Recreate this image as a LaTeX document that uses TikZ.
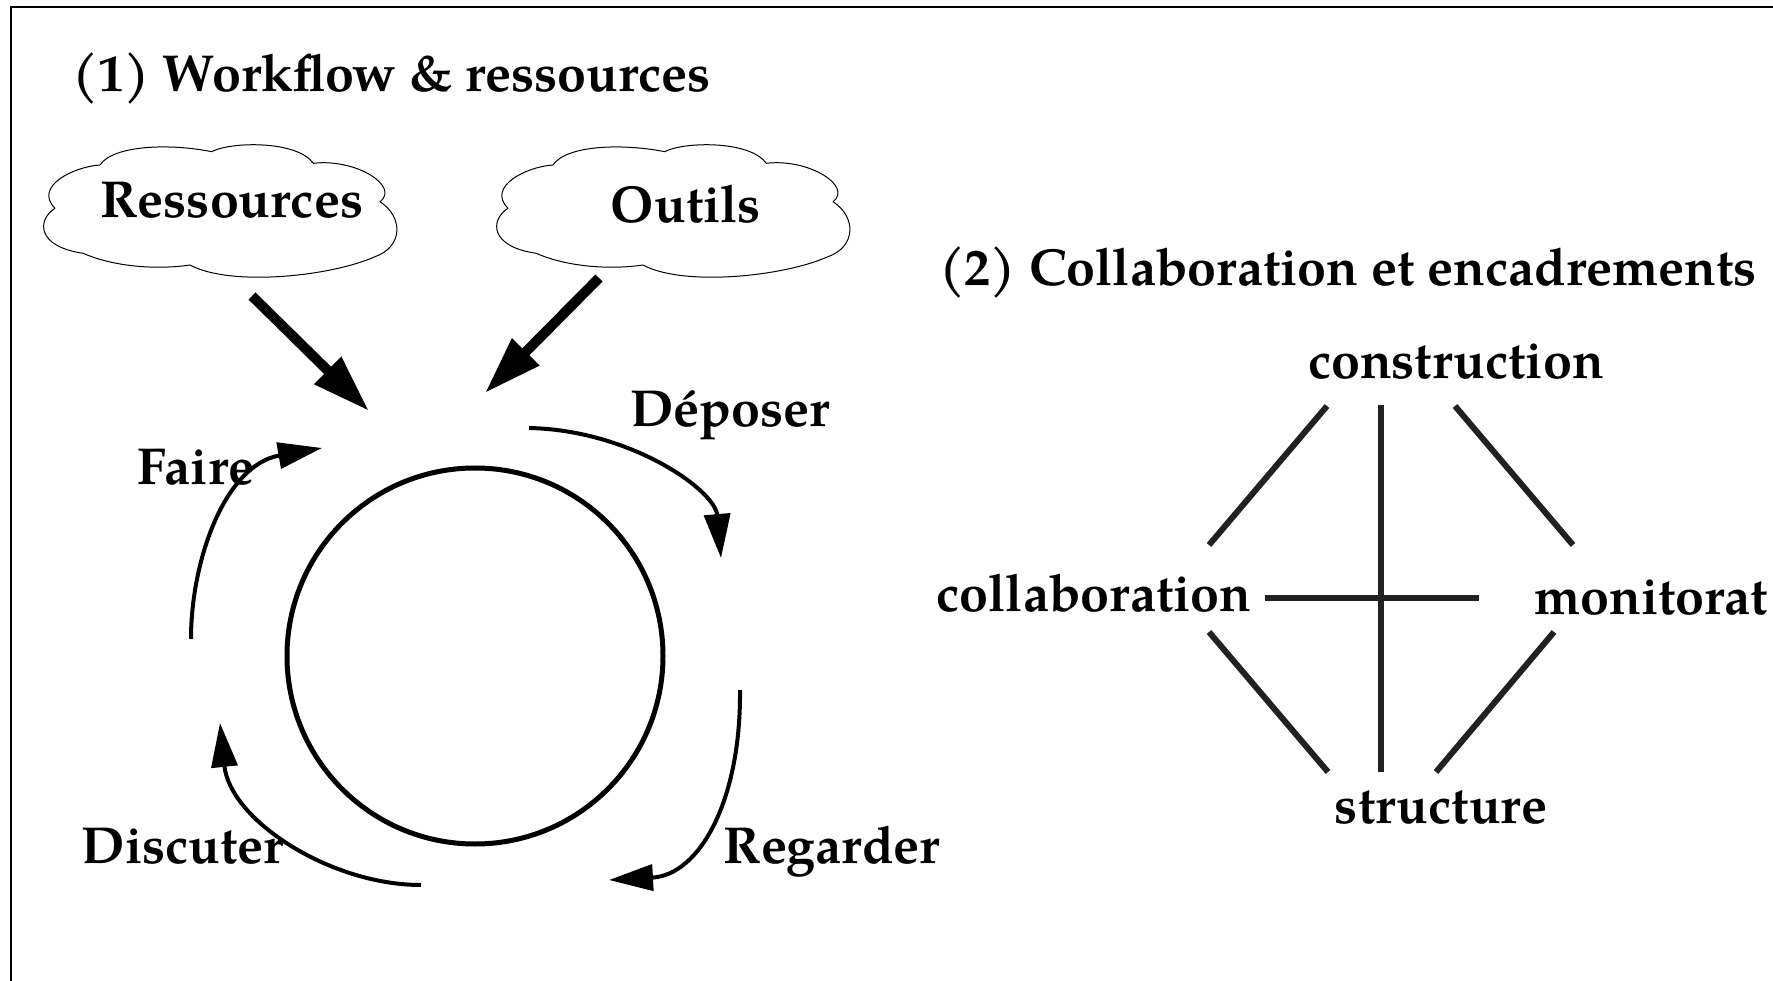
\documentclass[tikz,border=0pt]{standalone}
\usepackage{fontspec}
\setmainfont{texgyrepagella}[Extension=.otf, UprightFont=*-regular, BoldFont=*-bold, ItalicFont=*-italic, BoldItalicFont=*-bolditalic]
\usetikzlibrary{arrows.meta}
\tikzset{
  lbl/.style={font=\fontsize{52}{62}\selectfont\bfseries, inner sep=0pt, anchor=base},
  cloudline/.style={draw, line width=1pt, line join=round},
  flow/.style={line width=4pt, -{Triangle[length=44pt,width=26pt]}},
  feed/.style={line width=10pt, -{Triangle[length=58pt,width=36pt]}},
  tie/.style={line width=6pt, draw=black!87},
  ring/.style={circle, draw, line width=5pt, minimum size=376pt, inner sep=0pt},
}
\newcommand{\cloudshape}{%
  (100,165) .. controls (113.3,145) and (170,143.3) .. (211.7,151.7)
  .. controls (230,141.7) and (296.7,140) .. (313.3,163.3)
  .. controls (356.7,158.3) and (400,186.7) .. (380,201.7)
  .. controls (403.3,216.7) and (403.3,246.7) .. (375,256.7)
  .. controls (330,276.7) and (230,286.7) .. (190,265)
  .. controls (156.7,270) and (113.3,266.7) .. (83.3,253.3)
  .. controls (36.7,246.7) and (36.7,220) .. (55,208.3)
  .. controls (33.3,186.7) and (73.3,166.7) .. (100,165) -- cycle}
\begin{document}
\begin{tikzpicture}[x=1pt,y=-1pt]
\useasboundingbox (0,0) rectangle (1773,981);
% frame
\draw[line width=2pt] (11,990) -- (11,7) -- (1790,7);

% (1) workflow
\node[lbl] (t1) at (392,92) {(1) Workflow \& ressources};
\path[cloudline] \cloudshape;
\begin{scope}[shift={(453,0)}]
\path[cloudline] \cloudshape;
\end{scope}
\node[lbl] (res) at (232,218) {Ressources};
\node[lbl] (out) at (686,223) {Outils};

\coordinate (f1s) at (252,296);
\coordinate (f1e) at (369,411);
\coordinate (f2s) at (599,278);
\coordinate (f2e) at (485,393);
\draw[feed] (f1s) -- (f1e);
\draw[feed] (f2s) -- (f2e);

\node[ring] (cyc) at (475,656) {};

\node[lbl] (dep) at (730,427) {Déposer};
\node[lbl] (fai) at (196,484) {Faire};
\node[lbl] (dis) at (183,863) {Discuter};
\node[lbl] (reg) at (832,863) {Regarder};

\coordinate (ds) at (529,428);
\coordinate (de) at (721,558);
\coordinate (rs) at (740,690);
\coordinate (re) at (609,880);
\coordinate (ss) at (421,885);
\coordinate (se) at (220,723);
\coordinate (as) at (191,639);
\coordinate (ae) at (322,448);
\draw[flow] (ds) .. controls (630,430) and (715,490) .. (de);
\draw[flow] (rs) .. controls (741,800) and (700,875) .. (re);
\draw[flow] (ss) .. controls (330,885) and (230,820) .. (se);
\draw[flow] (as) .. controls (191,560) and (225,465) .. (ae);

% (2) collaboration
\node[lbl] (t2) at (1348,286) {(2) Collaboration et encadrements};
\node[lbl] (con) at (1456,379) {construction};
\node[lbl] (col) at (1094,611) {collaboration};
\node[lbl, anchor=base west] (mon) at (1534,614) {monitorat};
\node[lbl] (str) at (1441,823) {structure};

\coordinate (a1) at (1327,406);
\coordinate (a2) at (1209,545);
\coordinate (v1) at (1381,405);
\coordinate (v2) at (1381,772);
\coordinate (b1) at (1455,406);
\coordinate (b2) at (1573,545);
\coordinate (h1) at (1265,598);
\coordinate (h2) at (1479,598);
\coordinate (c3) at (1209,632);
\coordinate (c4) at (1328,772);
\coordinate (d1) at (1554,632);
\coordinate (d2) at (1436,772);
\draw[tie] (a1) -- (a2);
\draw[tie] (v1) -- (v2);
\draw[tie] (b1) -- (b2);
\draw[tie] (h1) -- (h2);
\draw[tie] (c3) -- (c4);
\draw[tie] (d1) -- (d2);
\end{tikzpicture}
\end{document}
